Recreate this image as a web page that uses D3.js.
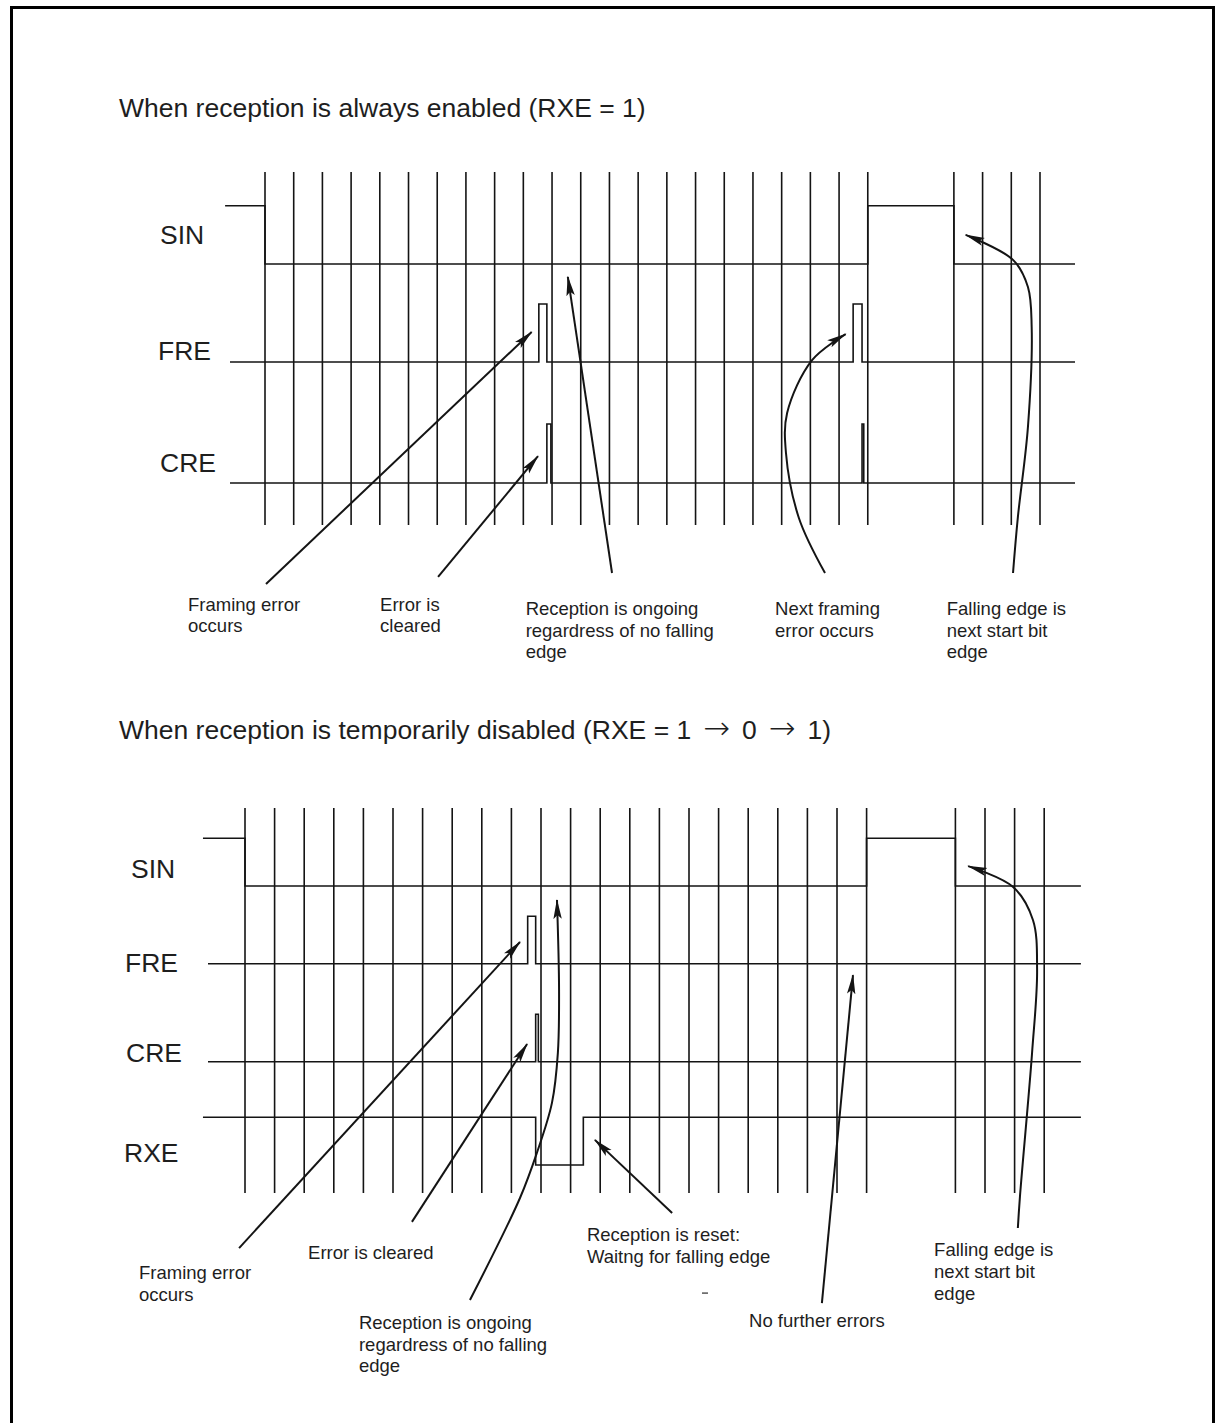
<!DOCTYPE html>
<html>
<head>
<meta charset="utf-8">
<script src="https://cdn.jsdelivr.net/npm/d3@7"></script>
<style>
  body { margin: 0; background: #fff; }
  svg { display: block; }
  text { font-family: "Liberation Sans", Arial, Helvetica, sans-serif; fill: #1e1e1e; }
  .sym { font-family: "DejaVu Sans", sans-serif; font-weight: 200; }
</style>
</head>
<body>
<svg id="chart" width="1216" height="1423"></svg>
<script>
// Clock edges (in bit periods) drawn as vertical lines
var clockTop = [0,1,2,3,4,5,6,7,8,9,10,11,12,13,14,15,16,17,18,19,20,21,24,25,26,27];
var clockBottom = [0,1,2,3,4,5,6,7,8,9,10,11,12,13,14,15,16,17,18,19,20,21,24,25,26,27];

// Waveforms: [time in bit periods, logic level]
var sinTop = [[-1.39,1],[0,0],[21,1],[24,0],[28.22,0]];
var freTop = [[-1.22,0],[9.54,1],[9.82,0],[20.49,1],[20.8,0],[28.22,0]];
var creTop = [[-1.22,0],[9.82,1],[9.96,0],[20.8,1],[20.86,0],[28.22,0]];

var sinBottom = [[-1.42,1],[0,0],[21,1],[24,0],[28.24,0]];
var freBottom = [[-1.25,0],[9.55,1],[9.82,0],[28.24,0]];
var creBottom = [[-1.25,0],[9.82,1],[9.91,0],[28.24,0]];
var rxeBottom = [[-1.42,1],[9.82,0],[11.43,1],[28.24,1]];

var topSignals = ["SIN", "FRE", "CRE"];
var bottomSignals = ["SIN", "FRE", "CRE", "RXE"];

// heading pieces; "\u2192" pieces are set in a symbol font
var headings = [
  ["When reception is always enabled (RXE = 1)"],
  ["When reception is temporarily disabled (RXE = 1", "\u2192", "0", "\u2192", "1)"]
];

// Annotations: text lines and anchor [t, v] (v = % of the clock-line height)
var topNotes = [
  {lines: ["Framing error", "occurs"], at: [-2.68, 124.3]},
  {lines: ["Error is", "cleared"], at: [4.01, 124.3]},
  {lines: ["Reception is ongoing", "regardress of no falling", "edge"], at: [9.08, 125.5]},
  {lines: ["Next framing", "error occurs"], at: [17.77, 125.5]},
  {lines: ["Falling edge is", "next start bit", "edge"], at: [23.75, 125.5]}
];
var bottomNotes = [
  {lines: ["Framing error", "occurs"], at: [-3.58, 122.3]},
  {lines: ["Error is cleared"], at: [2.13, 117.1]},
  {lines: ["Reception is ongoing", "regardress of no falling", "edge"], at: [3.85, 135.3]},
  {lines: ["Reception is reset:", "Waitng for falling edge"], at: [11.55, 112.5]},
  {lines: ["No further errors"], at: [17.03, 134.8]},
  {lines: ["Falling edge is", "next start bit", "edge"], at: [23.28, 116.4]}
];

// Arrow paths from the note to the event, [t, v]
var topArrows = [
  [[0.035,116.7],[9.29,45.3]],
  [[6.03,114.7],[9.51,80.5]],
  [[12.09,113.6],[10.55,29.7]],
  [[19.51,113.6],[18.60,98.0],[18.15,79.6],[18.19,68.3],[19.06,53.3],[20.23,45.9]],
  [[26.06,113.6],[26.23,97.7],[26.58,72.2],[26.71,43.9],[26.58,32.6],[26.06,24.9],[24.41,17.8]]
];
var bottomArrows = [
  [[-0.20,114.3],[9.29,34.8]],
  [[5.64,107.5],[9.53,61.3]],
  [[7.60,127.8],[9.29,101.3],[9.86,89.6],[10.37,76.6],[10.57,63.6],[10.61,47.3],[10.54,23.9]],
  [[14.43,105.2],[11.82,86.2]],
  [[19.49,128.6],[20.54,43.4]],
  [[26.11,109.1],[26.18,101.0],[26.59,63.6],[26.76,42.1],[26.62,29.1],[25.95,20.5],[24.43,15.1]]
];
var strayMarks = [[15.54, 126.0]];

var svg = d3.select("#chart");
var ink = "#141414";

svg.append("defs").append("marker")
  .attr("id", "head")
  .attr("markerUnits", "userSpaceOnUse")
  .attr("viewBox", "0 -5 20 10")
  .attr("refX", 19).attr("refY", 0)
  .attr("markerWidth", 20).attr("markerHeight", 10)
  .attr("orient", "auto")
  .append("path")
  .attr("d", "M0,-4.2L20,0L0,4.2L4,0Z")
  .attr("fill", ink);

// frame
svg.append("path")
  .attr("d", "M11.5,1423V7.5H1213.5V1423")
  .attr("fill", "none").attr("stroke", "#000").attr("stroke-width", 3);

function drawPanel(cfg) {
  var g = svg.append("g");
  var x = cfg.x, y = cfg.y;

  g.append("text")
    .attr("x", cfg.heading[0]).attr("y", cfg.heading[1])
    .style("font-size", "26.5px")
    .selectAll("tspan").data(cfg.title).enter().append("tspan")
    .attr("class", function(d) { return d === "\u2192" ? "sym" : null; })
    .attr("dx", function(d, i) { return i ? 12 : 0; })
    .style("font-size", function(d) { return d === "\u2192" ? "32px" : null; })
    .text(function(d) { return d; });

  // clock lines
  g.selectAll("line.clk").data(cfg.clock).enter().append("line")
    .attr("class", "clk")
    .attr("x1", function(d) { return x(d); }).attr("x2", function(d) { return x(d); })
    .attr("y1", y(0)).attr("y2", y(100))
    .attr("stroke", ink).attr("stroke-width", 1.6);

  cfg.rows.forEach(function(r, i) {
    var ry = d3.scaleLinear().domain([0, 1]).range([r.lo, r.hi]);
    g.append("path")
      .attr("d", d3.line().curve(d3.curveStepAfter)
        .x(function(d) { return x(d[0]); })
        .y(function(d) { return ry(d[1]); })(r.wave))
      .attr("fill", "none").attr("stroke", ink).attr("stroke-width", 1.6);
    g.append("text")
      .attr("x", r.label[0]).attr("y", r.label[1])
      .style("font-size", "26.5px")
      .text(cfg.names[i]);
  });

  var curve = d3.line().curve(d3.curveCatmullRom.alpha(0.5))
    .x(function(d) { return x(d[0]); })
    .y(function(d) { return y(d[1]); });
  g.selectAll("path.arrow").data(cfg.arrows).enter().append("path")
    .attr("class", "arrow")
    .attr("d", curve)
    .attr("fill", "none").attr("stroke", ink).attr("stroke-width", 2)
    .attr("marker-end", "url(#head)");

  var notes = g.selectAll("text.note").data(cfg.notes).enter().append("text")
    .attr("class", "note")
    .attr("x", function(d) { return x(d.at[0]); })
    .attr("y", function(d) { return y(d.at[1]); })
    .style("font-size", "18.5px");
  notes.selectAll("tspan").data(function(d) { return d.lines; }).enter().append("tspan")
    .attr("x", function() { return x(d3.select(this.parentNode).datum().at[0]); })
    .attr("dy", function(d, i) { return i ? 21.7 : 0; })
    .text(function(d) { return d; });

  if (cfg.marks) {
    g.selectAll("line.mark").data(cfg.marks).enter().append("line")
      .attr("x1", function(d) { return x(d[0]) - 3; })
      .attr("x2", function(d) { return x(d[0]) + 3; })
      .attr("y1", function(d) { return y(d[1]); })
      .attr("y2", function(d) { return y(d[1]); })
      .attr("stroke", "#555").attr("stroke-width", 1.5);
  }
}

drawPanel({
  title: headings[0], heading: [119, 117],
  x: d3.scaleLinear().domain([0, 27]).range([265, 1040]),
  y: d3.scaleLinear().domain([0, 100]).range([172, 525]),
  clock: clockTop,
  names: topSignals,
  rows: [
    {wave: sinTop, lo: 264, hi: 205.7, label: [160, 243.5]},
    {wave: freTop, lo: 362, hi: 304, label: [158, 360]},
    {wave: creTop, lo: 483, hi: 424, label: [160, 471.7]}
  ],
  notes: topNotes,
  arrows: topArrows
});

drawPanel({
  title: headings[1], heading: [119, 739],
  x: d3.scaleLinear().domain([0, 27]).range([245, 1044.2]),
  y: d3.scaleLinear().domain([0, 100]).range([808, 1193]),
  clock: clockBottom,
  names: bottomSignals,
  rows: [
    {wave: sinBottom, lo: 886, hi: 838.3, label: [131, 878]},
    {wave: freBottom, lo: 963.7, hi: 916.3, label: [125, 971.7]},
    {wave: creBottom, lo: 1061.7, hi: 1014.3, label: [126, 1061.7]},
    {wave: rxeBottom, lo: 1165, hi: 1117.3, label: [124, 1161.7]}
  ],
  notes: bottomNotes,
  arrows: bottomArrows,
  marks: strayMarks
});
</script>
</body>
</html>
